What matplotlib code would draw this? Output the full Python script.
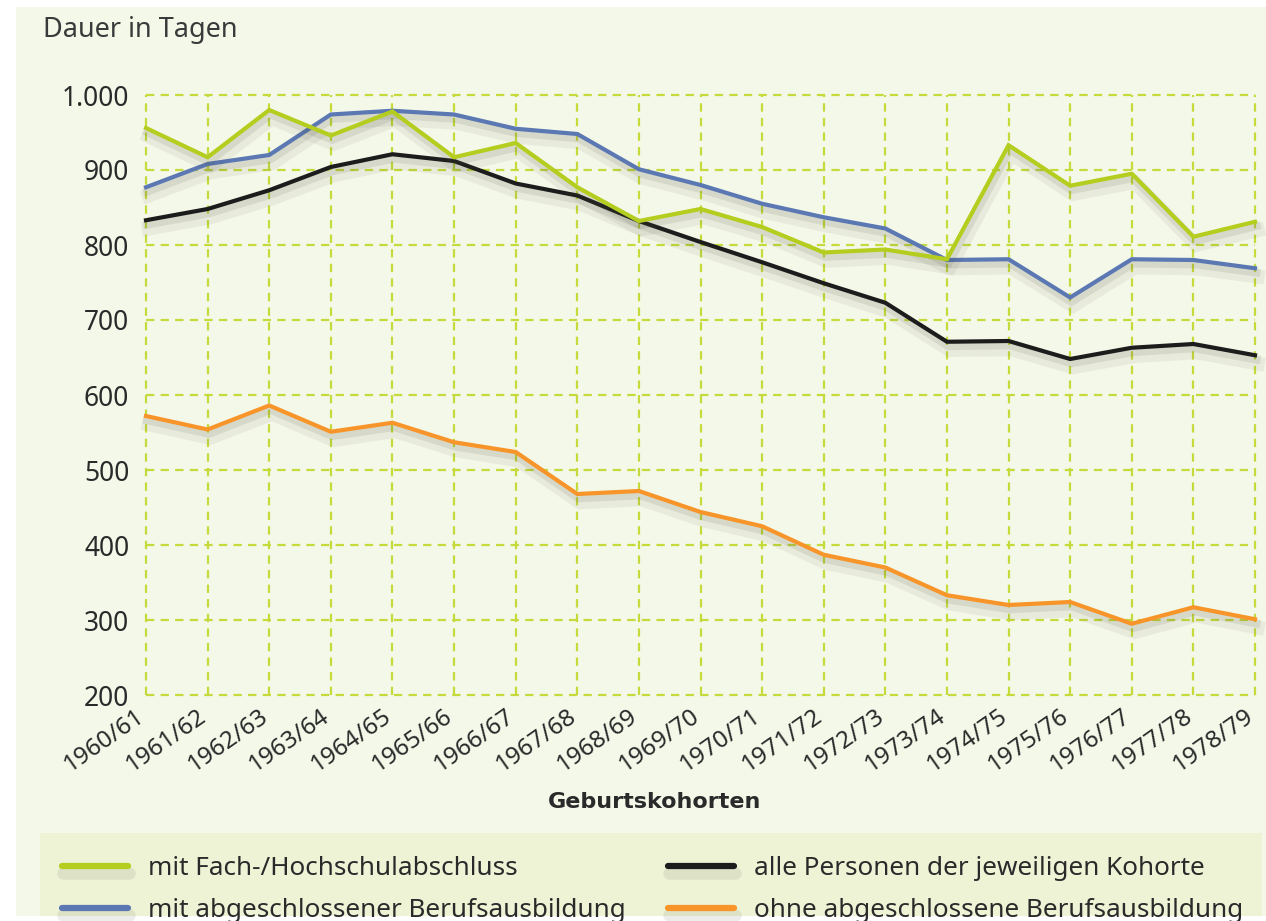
import matplotlib
matplotlib.use("Agg")
import matplotlib.pyplot as plt
import matplotlib.patheffects as pe
from matplotlib.patches import Rectangle
from matplotlib.lines import Line2D
import numpy as np

plt.rcParams['font.family'] = ['Noto Sans', 'DejaVu Sans']
plt.rcParams['lines.scale_dashes'] = False

# Geburtskohorten
cohorts = ["1960/61", "1961/62", "1962/63", "1963/64", "1964/65", "1965/66",
           "1966/67", "1967/68", "1968/69", "1969/70", "1970/71", "1971/72",
           "1972/73", "1973/74", "1974/75", "1975/76", "1976/77", "1977/78",
           "1978/79"]

# Dauer in Tagen
hochschule = [956, 917, 980, 946, 978, 917, 936, 877, 832, 848, 824, 790,
              794, 781, 933, 879, 895, 811, 831]
berufsausb = [877, 908, 920, 974, 979, 974, 955, 948, 901, 880, 855, 837,
              822, 780, 781, 730, 781, 780, 769]
alle = [833, 848, 873, 904, 921, 912, 882, 866, 832, 804, 777, 749,
        723, 671, 672, 648, 663, 668, 653]
ohne = [572, 554, 586, 551, 563, 537, 524, 468, 472, 444, 425, 387,
        370, 333, 320, 324, 295, 317, 301]

labels = ["mit Fach-/Hochschulabschluss", "mit abgeschlossener Berufsausbildung",
          "alle Personen der jeweiligen Kohorte", "ohne abgeschlossene Berufsausbildung"]
colors = ["#B4CD1E", "#5B78B3", "#1C1C1C", "#F7952A"]
yticks = [200, 300, 400, 500, 600, 700, 800, 900, 1000]

W, H = 1266, 921
fig = plt.figure(figsize=(W / 100, H / 100), dpi=100, facecolor="white")

def fx(px):
    return px / W

def fy(py):
    return 1 - py / H

# background panel and legend box (drawn below the axes)
fig.patches.append(Rectangle((fx(16), fy(916)), fx(W) - fx(16), fy(7) - fy(916),
                             transform=fig.transFigure, facecolor="#F4F8E9",
                             edgecolor="none", zorder=-2))
fig.patches.append(Rectangle((fx(40), fy(916)), fx(1262) - fx(40), fy(833) - fy(916),
                             transform=fig.transFigure, facecolor="#EEF3D6",
                             edgecolor="none", zorder=-1))

ax = fig.add_axes([fx(146), fy(695), fx(1255) - fx(146), fy(95) - fy(695)])
ax.set_facecolor("none")
for s in ax.spines.values():
    s.set_visible(False)

x = np.arange(len(cohorts))
shadow = [pe.SimpleLineShadow(offset=(1, -3), shadow_color="#4a4a3a", alpha=0.11, linewidth=6),
          pe.SimpleLineShadow(offset=(2, -6), shadow_color="#4a4a3a", alpha=0.07, linewidth=10),
          pe.Normal()]

series = [ohne, alle, berufsausb, hochschule]
order = [3, 2, 1, 0]
for vals, i in zip(series, order):
    ax.plot(x, vals, color=colors[i], lw=3, solid_joinstyle="miter",
            path_effects=shadow, zorder=3, clip_on=False)

ax.set_xlim(0, len(cohorts) - 1)
ax.set_ylim(200, 1000)
ax.set_xticks(x)
ax.set_xticklabels(cohorts, rotation=35, ha="right", va="baseline",
                   rotation_mode="anchor", fontsize=17.5, color="#2a2a2a")
ax.set_yticks(yticks)
ax.set_yticklabels([f"{v:,}".replace(",", ".") for v in yticks],
                   fontsize=19, color="#2a2a2a")
ax.tick_params(axis="both", length=0)
ax.tick_params(axis="y", pad=12)
ax.tick_params(axis="x", pad=17)

ax.grid(True, color="#C6DA3C", lw=1.6, linestyle=(0, (6, 4.5)), zorder=1)
ax.set_axisbelow(True)
for gl in ax.get_xgridlines() + ax.get_ygridlines():
    gl.set_clip_on(False)

fig.text(fx(43), fy(30), "Dauer in Tagen", fontsize=19.5, color="#3a3a3a",
         ha="left", va="center")
fig.text(fx(655), fy(802), "Geburtskohorten", fontsize=16, fontweight="bold",
         family="DejaVu Sans", color="#2a2a2a", ha="center", va="center")

# legend
leg_pos = [(62, 866), (62, 908), (668, 866), (668, 908)]
for (lx, ly), lab, col in zip(leg_pos, labels, colors):
    ln = Line2D([fx(lx), fx(lx + 66)], [fy(ly), fy(ly)], transform=fig.transFigure,
                color=col, lw=4.5, solid_capstyle="round",
                path_effects=[pe.SimpleLineShadow(offset=(1, -5), shadow_color="#4a4a3a",
                                                  alpha=0.1, linewidth=9), pe.Normal()])
    fig.lines.append(ln)
    fig.text(fx(lx + 86), fy(ly + 2), lab, fontsize=18.8, color="#2a2a2a",
             ha="left", va="center")

fig.savefig("out.png", dpi=100, facecolor="white")
